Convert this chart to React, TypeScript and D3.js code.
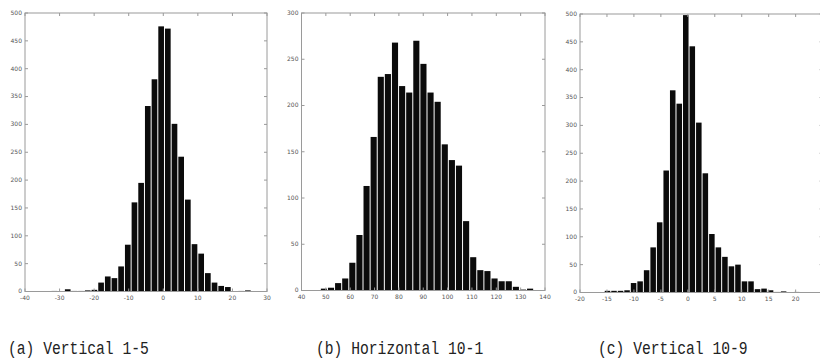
import React, { useEffect, useRef } from 'react';
import * as d3 from 'd3';

// histogram counts, one value per bin
const countsA = [1, 0, 4, 1, 1, 2, 3, 16, 27, 24, 45, 84, 160, 195, 333, 381, 476, 472, 301, 242, 165, 85, 68, 33, 16, 10, 8, 0, 1, 2];
const countsB = [2, 3, 8, 13, 30, 60, 113, 166, 231, 234, 268, 221, 214, 270, 245, 214, 204, 158, 141, 135, 75, 36, 22, 21, 13, 10, 10, 4, 1, 2];
const countsC = [3, 3, 3, 4, 17, 20, 40, 81, 126, 219, 363, 339, 498, 442, 305, 214, 105, 81, 64, 47, 50, 20, 20, 6, 7, 4, 1, 2, 0, 1];

// first bin centre and bin width (data units)
const binA = { first: -31.5, width: 1.93 };
const binB = { first: 49.2, width: 2.92 };
const binC = { first: -14.9, width: 1.21 };

const xTicksA = [-40, -30, -20, -10, 0, 10, 20, 30];
const xTicksB = [40, 50, 60, 70, 80, 90, 100, 110, 120, 130, 140];
const xTicksC = [-20, -15, -10, -5, 0, 5, 10, 15, 20, 25];
const yTicksA = [0, 50, 100, 150, 200, 250, 300, 350, 400, 450, 500];
const yTicksB = [0, 50, 100, 150, 200, 250, 300];
const yTicksC = [0, 50, 100, 150, 200, 250, 300, 350, 400, 450, 500];

const captions = ['(a) Vertical 1-5', '(b) Horizontal 10-1', '(c) Vertical 10-9'];

interface PanelOpts {
  counts: number[];
  bin: { first: number; width: number };
  xDomain: [number, number];
  yDomain: [number, number];
  xTicks: number[];
  yTicks: number[];
  left: number;
  right: number;
  top: number;
  bottom: number;
}

const drawPanel = (svg: d3.Selection<SVGSVGElement, unknown, null, undefined>, o: PanelOpts) => {
  const x = d3.scaleLinear().domain(o.xDomain).range([o.left, o.right]);
  const y = d3.scaleLinear().domain(o.yDomain).range([o.bottom, o.top]);
  const g = svg.append('g');
  const axisColor = '#9a9a9a';
  const tick = 3;

  // bars
  const bw = x(o.bin.width) - x(0);
  g.selectAll('rect.bar')
    .data(o.counts)
    .enter().append('rect')
    .attr('class', 'bar')
    .attr('x', (d, i) => x(o.bin.first + i * o.bin.width) - bw / 2 + 0.5)
    .attr('width', bw - 1)
    .attr('y', d => y(d))
    .attr('height', d => o.bottom - y(d))
    .attr('fill', '#0b0b0b');

  // box
  g.append('rect')
    .attr('x', o.left)
    .attr('y', o.top)
    .attr('width', o.right - o.left)
    .attr('height', o.bottom - o.top)
    .attr('fill', 'none')
    .attr('stroke', axisColor)
    .attr('stroke-width', 1);

  // x ticks (bottom + top, inward)
  o.xTicks.forEach(t => {
    const xv = x(t);
    g.append('line').attr('x1', xv).attr('x2', xv).attr('y1', o.bottom).attr('y2', o.bottom - tick)
      .attr('stroke', axisColor);
    g.append('line').attr('x1', xv).attr('x2', xv).attr('y1', o.top).attr('y2', o.top + tick)
      .attr('stroke', axisColor);
    if (xv > 812) return; // label would fall off the page
    g.append('text')
      .attr('x', xv)
      .attr('y', o.bottom + 8)
      .attr('text-anchor', 'middle')
      .style('font-family', 'DejaVu Sans')
      .style('font-size', '6px')
      .style('fill', '#555')
      .text(t);
  });

  // y ticks (left + right, inward)
  o.yTicks.forEach(t => {
    const yv = y(t);
    g.append('line').attr('x1', o.left).attr('x2', o.left + tick).attr('y1', yv).attr('y2', yv)
      .attr('stroke', axisColor);
    g.append('line').attr('x1', o.right).attr('x2', o.right - tick).attr('y1', yv).attr('y2', yv)
      .attr('stroke', axisColor);
    g.append('text')
      .attr('x', o.left - 3)
      .attr('y', yv)
      .attr('dy', '0.32em')
      .attr('text-anchor', 'end')
      .style('font-family', 'DejaVu Sans')
      .style('font-size', '6px')
      .style('fill', '#555')
      .text(t);
  });
};

const App: React.FC = () => {
  const ref = useRef<SVGSVGElement | null>(null);

  useEffect(() => {
    const svg = d3.select(ref.current!);
    svg.selectAll('*').remove();

    svg.append('rect').attr('width', 820).attr('height', 360).attr('fill', 'white');

    drawPanel(svg, {
      counts: countsA, bin: binA, xDomain: [-40, 30], yDomain: [0, 500],
      xTicks: xTicksA, yTicks: yTicksA, left: 25, right: 267, top: 13, bottom: 291.5
    });
    drawPanel(svg, {
      counts: countsB, bin: binB, xDomain: [40, 140], yDomain: [0, 300],
      xTicks: xTicksB, yTicks: yTicksB, left: 301.5, right: 545, top: 13, bottom: 290.5
    });
    drawPanel(svg, {
      counts: countsC, bin: binC, xDomain: [-20, 25], yDomain: [0, 500],
      xTicks: xTicksC, yTicks: yTicksC, left: 580, right: 822.6, top: 14, bottom: 292.5
    });

    // captions (condensed monospace)
    const capX = [8, 316, 598];
    captions.forEach((c, i) => {
      svg.append('text')
        .attr('x', capX[i])
        .attr('y', 354)
        .attr('textLength', c.length * 8.8)
        .attr('lengthAdjust', 'spacingAndGlyphs')
        .style('font-family', 'Liberation Mono')
        .style('font-size', '19px')
        .style('fill', '#222')
        .text(c);
    });
  }, []);

  return (
    <svg ref={ref} width={820} height={360} style={{ position: 'absolute', left: 0, top: 0 }}></svg>
  );
};

export default App;
